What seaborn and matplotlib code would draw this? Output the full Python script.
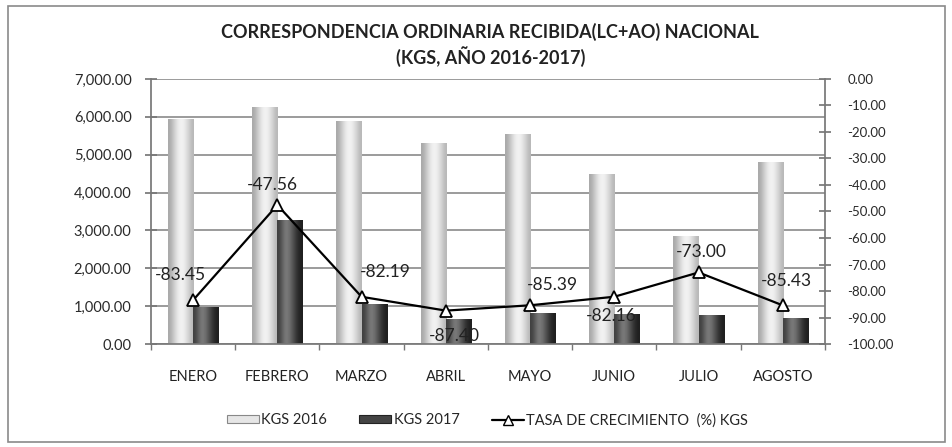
import numpy as np
import pandas as pd
import seaborn as sns
import matplotlib.pyplot as plt
from matplotlib.patches import Patch, Rectangle
from matplotlib.lines import Line2D
from matplotlib.ticker import FuncFormatter, MultipleLocator

meses = ["ENERO", "FEBRERO", "MARZO", "ABRIL", "MAYO", "JUNIO", "JULIO", "AGOSTO"]
kgs_2016 = [5950, 6250, 5900, 5300, 5550, 4500, 2850, 4800]
kgs_2017 = [985, 3277, 1050, 668, 811, 803, 770, 699]
tasa = [-83.45, -47.56, -82.19, -87.40, -85.39, -82.16, -73.00, -85.43]
# label offsets (px) relative to each point
label_off = [(-13, 25), (-5, 20), (24, 25), (9, -25), (22, 20), (-3, -19), (3, 20), (4, 24)]

sns.set_theme(style="white")
plt.rcParams["font.family"] = ["Lato", "DejaVu Sans"]

df = pd.DataFrame({
    "mes": meses * 2,
    "kgs": kgs_2016 + kgs_2017,
    "serie": ["KGS 2016"] * 8 + ["KGS 2017"] * 8,
})

fig = plt.figure(figsize=(9.52, 4.47), dpi=100)
fig.patch.set_facecolor("white")
ax = fig.add_axes([0.1586, 0.2304, 0.7080, 0.5929])

sns.barplot(data=df, x="mes", y="kgs", hue="serie", order=meses,
            palette=["#d4d4d4", "#555555"], width=0.6, ax=ax,
            legend=False, saturation=1, edgecolor="none")

# cylinder-like shading on bars
grads = [
    np.array([0.66, 0.78, 0.90, 0.96, 0.92, 0.83, 0.72]),
    np.array([0.25, 0.38, 0.50, 0.42, 0.30, 0.18, 0.12]),
]
for cont, g in zip(ax.containers, grads):
    for bar in cont:
        x0, y0 = bar.get_x(), bar.get_y()
        w, h = bar.get_width(), bar.get_height()
        im = ax.imshow(g[np.newaxis, :], cmap="gray", vmin=0, vmax=1,
                       extent=[x0, x0 + w, y0, y0 + h], aspect="auto",
                       interpolation="bicubic", zorder=2)
        im.set_clip_path(bar)

ax.set_xlim(-0.5, 7.5)
ax.set_ylim(0, 7000)
ax.yaxis.set_major_locator(MultipleLocator(1000))
ax.yaxis.set_major_formatter(FuncFormatter(lambda v, p: f"{v:,.2f}"))
ax.grid(axis="y", color="#808080", linewidth=1.1)
ax.set_axisbelow(True)
ax.set_xlabel("")
ax.set_ylabel("")
for s in ["top", "right"]:
    ax.spines[s].set_visible(False)
ax.spines["left"].set_color("#777777")
ax.spines["bottom"].set_color("#777777")
ax.tick_params(axis="y", labelsize=10.5, colors="#2a2a2a", left=True,
               direction="inout", length=8, color="#777777", pad=10)
ax.tick_params(axis="x", labelsize=10.5, colors="#222222", pad=13)
ax.set_xticks(np.arange(-0.5, 8, 1), minor=True)
ax.tick_params(axis="x", which="minor", bottom=True, length=4, color="#777777")

ax2 = ax.twinx()
ax2.plot(range(len(meses)), tasa, color="black", linewidth=1.6, marker="^",
         markersize=8.5, markerfacecolor="white", markeredgecolor="black",
         markeredgewidth=1.3, zorder=5)
ax2.set_ylim(-100, 0)
ax2.yaxis.set_major_locator(MultipleLocator(10))
ax2.yaxis.set_major_formatter(FuncFormatter(lambda v, p: f"{v:.2f}"))
for s in ["top", "left", "bottom"]:
    ax2.spines[s].set_visible(False)
ax2.spines["right"].set_color("#777777")
ax2.tick_params(axis="y", labelsize=9.5, colors="#2a2a2a", right=True,
                direction="inout", length=8, color="#777777", pad=12)
ax2.grid(False)

for i, (v, (dx, dy)) in enumerate(zip(tasa, label_off)):
    ax2.annotate(f"{v:.2f}", (i, v), xytext=(dx * 0.72, dy * 0.72),
                 textcoords="offset points", ha="center", va="center",
                 fontsize=12.5, color="#222222", zorder=6)

fig.text(0.515, 0.928, "CORRESPONDENCIA ORDINARIA RECIBIDA(LC+AO) NACIONAL",
         ha="center", va="center", fontsize=13, fontweight="bold", color="#222222")
fig.text(0.515, 0.873, "(KGS, AÑO 2016-2017)",
         ha="center", va="center", fontsize=13, fontweight="bold", color="#222222")

handles = [
    Patch(facecolor="#e6e6e6", edgecolor="#888888", linewidth=0.8),
    Patch(facecolor="#444444", edgecolor="#222222", linewidth=0.8),
    Line2D([0], [0], color="black", linewidth=1.6, marker="^", markersize=7,
           markerfacecolor="white", markeredgecolor="black"),
]
fig.legend(handles, ["KGS 2016", "KGS 2017", "TASA DE CRECIMIENTO  (%) KGS"],
           loc="center", bbox_to_anchor=(0.512, 0.06), ncol=3, frameon=False,
           fontsize=10.5, handlelength=2.2, handleheight=0.5,
           columnspacing=2.2, handletextpad=0.15)

fig.patches.append(Rectangle((0.008, 0.012), 0.985, 0.975,
                             transform=fig.transFigure, fill=False,
                             edgecolor="#8a8a8a", linewidth=1.2))

fig.savefig("out.png", dpi=100)
